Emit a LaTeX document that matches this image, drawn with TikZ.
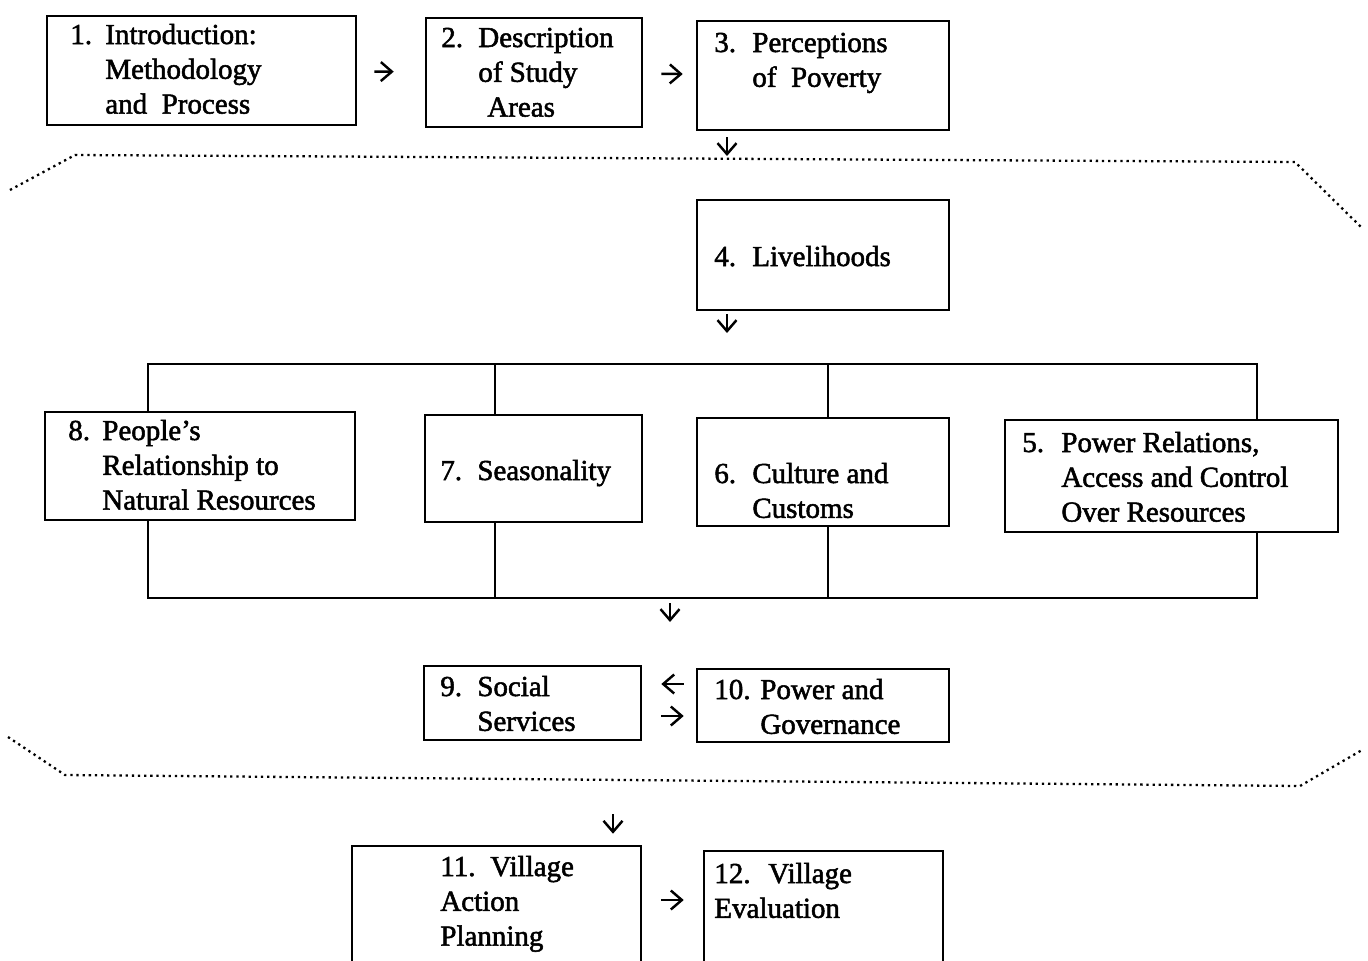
\documentclass[tikz,border=0pt]{standalone}
\usepackage{fontspec}
\setmainfont{Liberation Serif}[FakeBold=1.8]
\usetikzlibrary{arrows.meta}
\newcommand{\nr}[2][0.74cm]{\makebox[#1][l]{#2}}
\newcommand{\boxtext}[1]{\begin{tabular}[t]{@{}l@{}}#1\end{tabular}}

\begin{document}
\begin{tikzpicture}[x=0.02cm,y=-0.02cm]
    \tikzstyle{box}=[draw,line width=1.5pt,inner sep=0pt]
    \tikzstyle{edge}=[draw,line width=1.5pt,-,black]
    \tikzstyle{arr}=[draw,line width=1.4pt,-{Straight Barb[length=2.2mm,width=3.8mm]}]
    \tikzstyle{txt}=[anchor=base west,inner sep=0pt,font=\fontsize{16.5}{19.8}\selectfont]
    \tikzstyle{dots}=[line width=1.3pt,dash pattern=on 1.3pt off 2.2pt]
    \useasboundingbox (0,0) rectangle (1368,960);
    \clip (0,0) rectangle (1368,960);
    \node[box,minimum width=6.18cm,minimum height=2.18cm] (b1) at (201.5,70.5) {};
    \node[box,minimum width=4.32cm,minimum height=2.18cm] (b2) at (534,72.5) {};
    \node[box,minimum width=5.04cm,minimum height=2.18cm] (b3) at (823,75.5) {};
    \node[box,minimum width=5.04cm,minimum height=2.2cm] (b4) at (823,255) {};
    \node[box,minimum width=6.2cm,minimum height=2.16cm] (b8) at (200,466) {};
    \node[box,minimum width=4.34cm,minimum height=2.14cm] (b7) at (533.5,468.5) {};
    \node[box,minimum width=5.04cm,minimum height=2.16cm] (b6) at (823,472) {};
    \node[box,minimum width=6.66cm,minimum height=2.24cm] (b5) at (1171.5,476) {};
    \node[box,minimum width=4.34cm,minimum height=1.48cm] (b9) at (532.5,703) {};
    \node[box,minimum width=5.04cm,minimum height=1.46cm] (b10) at (823,705.5) {};
    \node[box,minimum width=5.78cm,minimum height=3.08cm] (b11) at (496.5,923) {};
    \node[box,minimum width=4.78cm,minimum height=2.98cm] (b12) at (823.5,925.5) {};
    \node[txt] (t1) at (70,44) {\boxtext{\nr[0.7cm]{1.}Introduction:\\\nr[0.7cm]{}Methodology\\\nr[0.7cm]{}and\ \ Process}};
    \node[txt] (t2) at (441,47) {\boxtext{\nr{2.}Description\\\nr{}of Study\\\hspace*{0.92cm}Areas}};
    \node[txt] (t3) at (714,52) {\boxtext{\nr[0.76cm]{3.}Perceptions\\\nr[0.76cm]{}of\ \ Poverty}};
    \node[txt] (t4) at (714,266) {\boxtext{\nr[0.76cm]{4.}Livelihoods}};
    \node[txt] (t8) at (68,440) {\boxtext{\nr[0.68cm]{8.}People’s\\\nr[0.68cm]{}Relationship to\\\nr[0.68cm]{}Natural Resources}};
    \node[txt] (t7) at (440,480) {\boxtext{\nr{7.}Seasonality}};
    \node[txt] (t6) at (714,483) {\boxtext{\nr[0.76cm]{6.}Culture and\\\nr[0.76cm]{}Customs}};
    \node[txt] (t5) at (1022,452) {\boxtext{\nr[0.78cm]{5.}Power Relations,\\\nr[0.78cm]{}Access and Control\\\nr[0.78cm]{}Over Resources}};
    \node[txt] (t9) at (440,696) {\boxtext{\nr{9.}Social\\\nr{}Services}};
    \node[txt] (t10) at (714,699) {\boxtext{\nr[0.92cm]{10.}Power and\\\nr[0.92cm]{}Governance}};
    \node[txt] (t11) at (440,876) {\boxtext{\nr[1cm]{11.}Village\\Action\\Planning}};
    \node[txt] (t12) at (714,883) {\boxtext{\nr[1.08cm]{12.}Village\\Evaluation}};
    \coordinate (tl) at (148,364);
    \coordinate (tr) at (1257,364);
    \coordinate (bl) at (148,598);
    \coordinate (brr) at (1257,598);
    \coordinate (c7) at (495,0);
    \coordinate (c6) at (828,0);
    \draw[edge] (b8.north -| tl) -- (tl) -- (tr) -- (b5.north -| tr);
    \draw[edge] (b7.north -| c7) -- (tl -| c7);
    \draw[edge] (b6.north -| c6) -- (tl -| c6);
    \draw[edge] (b8.south -| bl) -- (bl) -- (brr) -- (b5.south -| brr);
    \draw[edge] (b7.south -| c7) -- (bl -| c7);
    \draw[edge] (b6.south -| c6) -- (bl -| c6);
    \coordinate (d3) at (727,156);
    \coordinate (d4) at (727,333);
    \coordinate (d5) at (670,622);
    \coordinate (d9) at (613,814);
    \coordinate (l9) at (0,684);
    \coordinate (r9) at (0,716);
    \coordinate (r11) at (0,900);
    \draw[arr,shorten <=0.34cm,shorten >=0.62cm] (b1) -- (b2);
    \draw[arr,shorten <=0.36cm,shorten >=0.26cm] (b2) -- (b3);
    \draw[arr,shorten <=0.12cm] (b3.south -| d3) -- (d3);
    \draw[arr,shorten <=0.06cm] (b4.south -| d4) -- (d4);
    \draw[arr,shorten <=0.1cm] (bl -| d5) -- (d5);
    \draw[arr,shorten <=0.24cm,shorten >=0.38cm] (b10.west |- l9) -- (b9.east |- l9);
    \draw[arr,shorten <=0.38cm,shorten >=0.24cm] (b9.east |- r9) -- (b10.west |- r9);
    \draw[arr,shorten >=0.22cm] (d9) -- (b11.north -| d9);
    \draw[arr,shorten <=0.38cm,shorten >=0.38cm] (b11.east |- r11) -- (b12.west |- r11);
    \draw[dots] (10,190) -- (75,155) -- (1295,162) -- (1362,228);
    \draw[dots] (8,737) -- (65,775) -- (1300,786) -- (1362,750);
\end{tikzpicture}
\end{document}
